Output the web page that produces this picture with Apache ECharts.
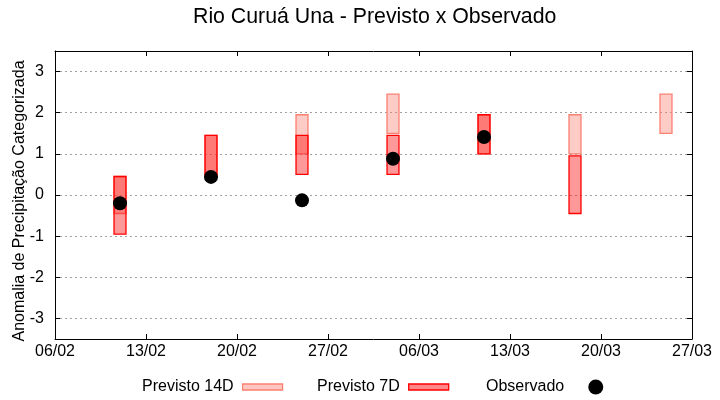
<!DOCTYPE html>
<html>
<head>
<meta charset="utf-8">
<script src="https://cdn.jsdelivr.net/npm/echarts@6/dist/echarts.min.js"></script>
<style>html,body{margin:0;padding:0;background:#fff}#c{width:720px;height:400px}</style>
</head>
<body>
<div id="c"></div>
<script>
// ---- data ----
var startDate = '2023-02-06';
var tickLabels = ['06/02', '13/02', '20/02', '27/02', '06/03', '13/03', '20/03', '27/03'];
var dates = ['2023-02-11', '2023-02-18', '2023-02-25', '2023-03-04', '2023-03-11', '2023-03-18', '2023-03-25'];
var prev14Low  = [-0.45, 0.45, 1.0, 1.5, 1.0, 1.0, 1.5];
var prev14High = [0.45, 1.45, 1.95, 2.45, 1.95, 1.95, 2.45];
var prev7Low   = [-0.95, 0.45, 0.5, 0.5, 1.0, -0.45, null];
var prev7High  = [0.45, 1.45, 1.45, 1.45, 1.95, 0.95, null];
var observed   = [-0.2, 0.44, -0.13, 0.88, 1.41, null, null];
var yAxisTitle = 'Anomalia de Precipitação Categorizada';

var DAY = 86400000;
function dayOffset(s) { return (Date.parse(s + 'T00:00:00Z') - Date.parse(startDate + 'T00:00:00Z')) / DAY; }
var xs = dates.map(dayOffset);
var nDays = (tickLabels.length - 1) * 7;

var d14 = [], d7 = [], dObs = [];
xs.forEach(function (x, i) {
  if (prev14Low[i] != null) d14.push([x, prev14Low[i], prev14High[i]]);
  if (prev7Low[i] != null) d7.push([x, prev7Low[i], prev7High[i]]);
  if (observed[i] != null) dObs.push([x, observed[i]]);
});

function boxRenderer(fill, stroke) {
  return function (params, api) {
    var x = api.value(0);
    var p1 = api.coord([x, api.value(2)]);
    var p0 = api.coord([x, api.value(1)]);
    var w = api.size([0.92, 0])[0];
    return {
      type: 'rect',
      shape: { x: p1[0] - w / 2, y: p1[1], width: w, height: p0[1] - p1[1] },
      style: { fill: fill, stroke: stroke, lineWidth: 1.3 }
    };
  };
}

var FONT = '"Liberation Sans", Arial, sans-serif';
var c14Fill = 'rgba(250,128,114,0.4)', c14Stroke = '#fa8072';
var c7Fill = 'rgba(255,0,0,0.4)', c7Stroke = '#ff0000';

var chart = echarts.init(document.getElementById('c'), null, { renderer: 'canvas' });
chart.setOption({
  animation: false,
  backgroundColor: '#ffffff',
  textStyle: { fontFamily: FONT },
  title: {
    text: 'Rio Curuá Una - Previsto x Observado',
    left: 193, top: 7, padding: 0,
    textStyle: { fontFamily: FONT, fontSize: 21.3, fontWeight: 'normal', color: '#000' }
  },
  graphic: [{
    type: 'text', x: 20, y: 201, rotation: Math.PI / 2,
    style: { text: yAxisTitle, font: '16px "Liberation Sans", Arial, sans-serif', fill: '#000', align: 'center', verticalAlign: 'middle' }
  }],
  grid: { left: 55, right: 28, top: 51, bottom: 61, containLabel: false, outerBoundsMode: 'none' },
  legend: [
    {
      data: [{ name: 'Previsto 14D', icon: 'rect', itemStyle: { color: 'rgba(250,128,114,0.45)', borderColor: c14Stroke, borderWidth: 1.3 } }],
      left: 142, top: 379, padding: 0, align: 'right', itemWidth: 40, itemHeight: 6,
      selectedMode: false,
      textStyle: { fontFamily: FONT, fontSize: 16, color: '#000', padding: [0, 4, 0, 0] }
    },
    {
      data: [{ name: 'Previsto 7D', icon: 'rect', itemStyle: { color: 'rgba(255,0,0,0.47)', borderColor: c7Stroke, borderWidth: 1.3 } }],
      left: 317, top: 379, padding: 0, align: 'right', itemWidth: 40, itemHeight: 6,
      selectedMode: false,
      textStyle: { fontFamily: FONT, fontSize: 16, color: '#000', padding: [0, 4, 0, 0] }
    },
    {
      data: [{ name: 'Observado', icon: 'circle', itemStyle: { color: '#000', opacity: 1 } }],
      left: 486, top: 379, padding: 0, align: 'right', itemWidth: 15, itemHeight: 15,
      selectedMode: false,
      textStyle: { fontFamily: FONT, fontSize: 16, color: '#000', padding: [0, 19, 0, 0] }
    }
  ],
  xAxis: [
    {
      type: 'value', min: 0, max: nDays, interval: 7, position: 'bottom',
      axisLine: { show: true, onZero: false, lineStyle: { color: '#000', width: 1 } },
      axisTick: { show: true, inside: true, length: 5, lineStyle: { color: '#000' } },
      axisLabel: {
        margin: 5, color: '#000', fontSize: 16, fontFamily: FONT,
        formatter: function (v) { return tickLabels[Math.round(v / 7)] || ''; }
      },
      splitLine: { show: false }
    },
    {
      type: 'value', min: 0, max: nDays, interval: 7, position: 'top',
      axisLine: { show: true, onZero: false, lineStyle: { color: '#000', width: 1 } },
      axisTick: { show: true, inside: true, length: 5, lineStyle: { color: '#000' } },
      axisLabel: { show: false },
      splitLine: { show: false }
    }
  ],
  yAxis: [
    {
      type: 'value', min: -3.5, max: 3.5, splitNumber: 7, position: 'left',
      axisLine: { show: true, onZero: false, lineStyle: { color: '#000', width: 1 } },
      axisTick: { show: true, inside: true, length: 5, lineStyle: { color: '#000' } },
      axisLabel: { margin: 11, color: '#000', fontSize: 16, fontFamily: FONT, showMinLabel: false, showMaxLabel: false },
      splitLine: { show: true, lineStyle: { color: '#a0a0a0', type: [2, 3], width: 1 } }
    },
    {
      type: 'value', min: -3.5, max: 3.5, splitNumber: 7, position: 'right',
      axisLine: { show: true, onZero: false, lineStyle: { color: '#000', width: 1 } },
      axisTick: { show: true, inside: true, length: 5, lineStyle: { color: '#000' } },
      axisLabel: { show: false },
      splitLine: { show: false }
    }
  ],
  series: [
    {
      name: 'Previsto 14D', type: 'custom', xAxisIndex: 0, yAxisIndex: 0,
      renderItem: boxRenderer(c14Fill, c14Stroke),
      itemStyle: { color: c14Fill, borderColor: c14Stroke },
      encode: { x: 0, y: [1, 2] },
      data: d14, z: 2
    },
    {
      name: 'Previsto 7D', type: 'custom', xAxisIndex: 0, yAxisIndex: 0,
      renderItem: boxRenderer(c7Fill, c7Stroke),
      itemStyle: { color: c7Fill, borderColor: c7Stroke },
      encode: { x: 0, y: [1, 2] },
      data: d7, z: 3
    },
    {
      name: 'Observado', type: 'scatter', xAxisIndex: 0, yAxisIndex: 0,
      symbol: 'circle', symbolSize: 14,
      itemStyle: { color: '#000', opacity: 1 },
      data: dObs, z: 4
    }
  ]
});
</script>
</body>
</html>
